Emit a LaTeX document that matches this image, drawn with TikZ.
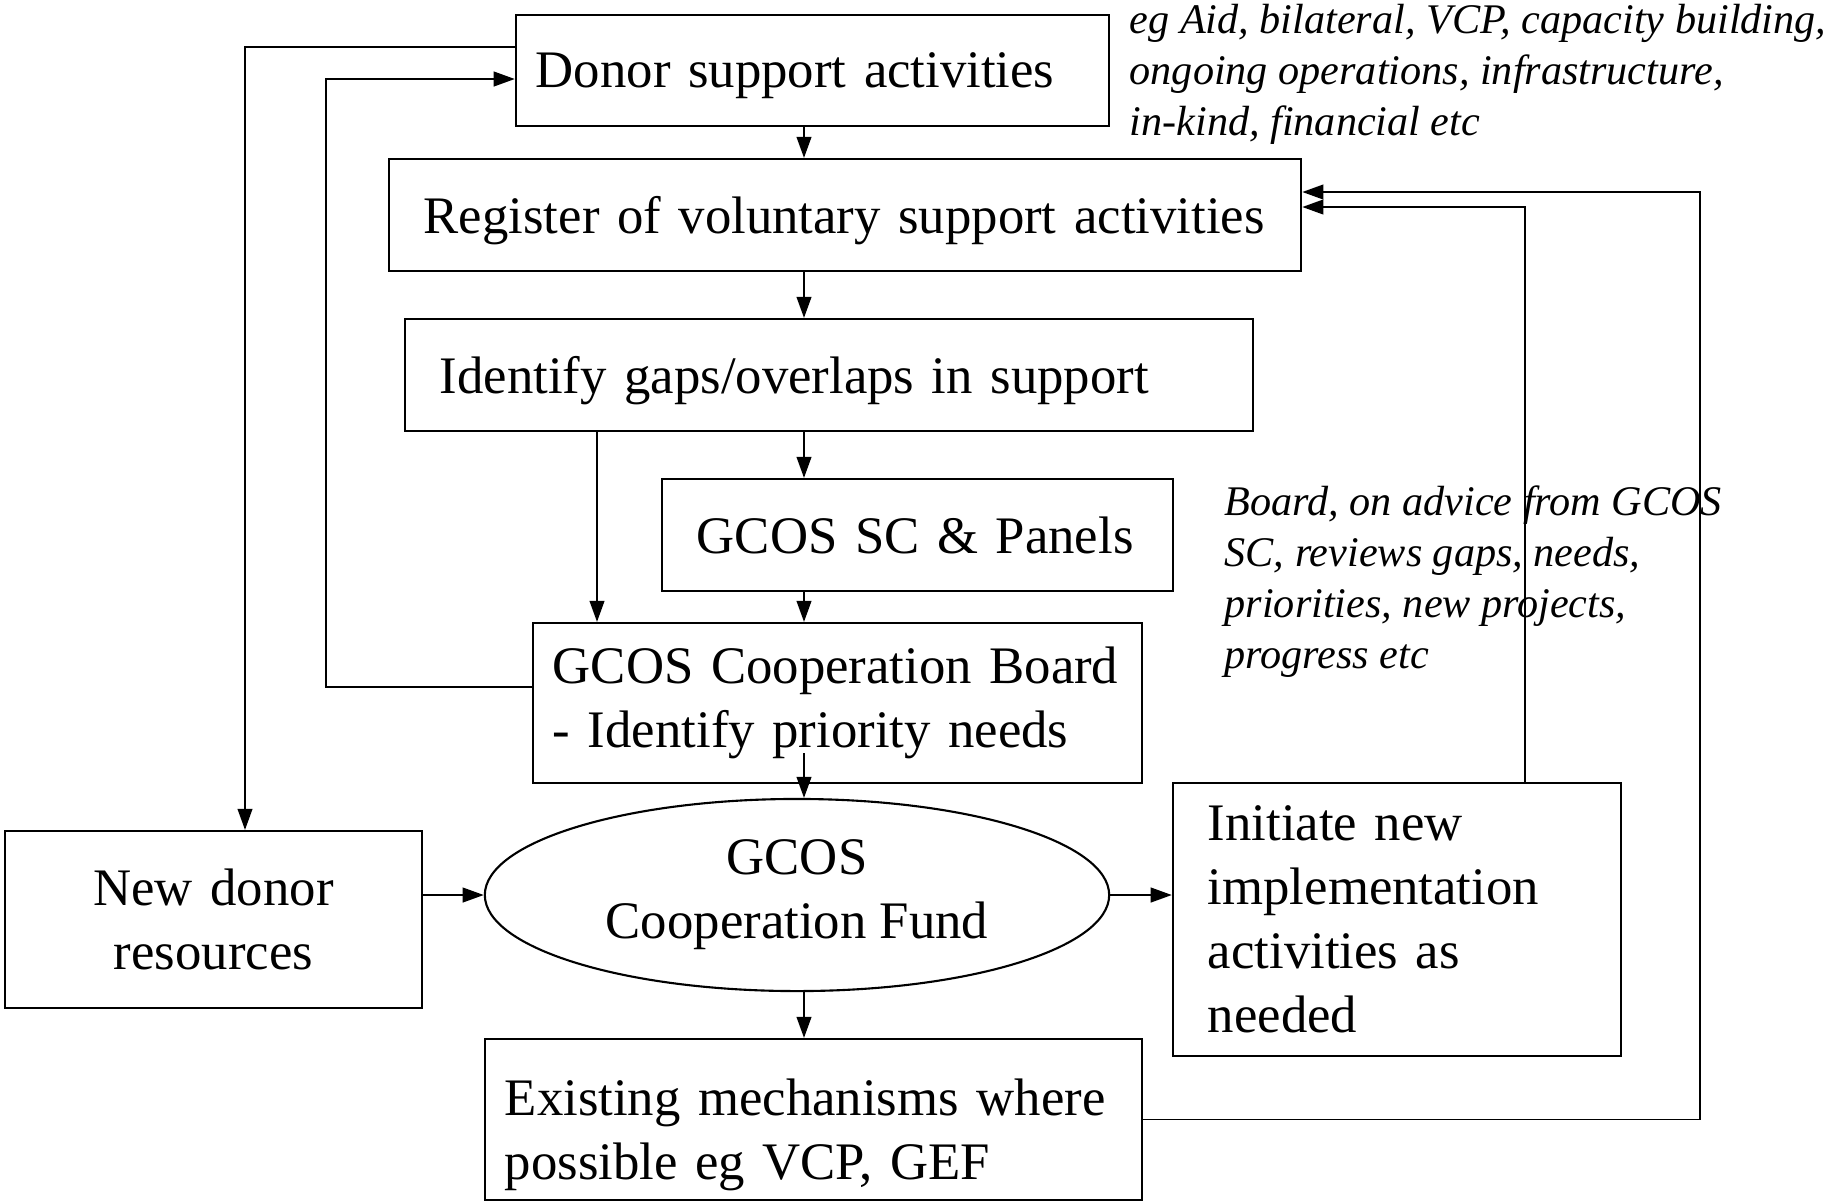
\documentclass[tikz,border=0pt]{standalone}
\usepackage{fontspec}
\setmainfont{Liberation Serif}
\usepackage{tikz}
\usetikzlibrary{arrows.meta,shapes.geometric,calc}
\newcommand{\boxtxt}{\fontsize{15}{18.2}\selectfont}
\newcommand{\notetxt}{\fontsize{12}{14.5}\selectfont\itshape}
\tikzset{
  bx/.style={draw,line width=0.6pt,inner xsep=0.35cm,inner ysep=0pt,align=left,font=\boxtxt},
  one/.style={text depth=0pt},
  pool/.style={ellipse,draw,line width=0.6pt,inner sep=0pt,minimum width=6.24cm,minimum height=1.92cm,align=center,font=\boxtxt},
  arr/.style={line width=0.5pt,-{Triangle[length=6pt,width=4.2pt]}},
  note/.style={inner sep=0pt,align=left,font=\notetxt}
}

\begin{document}
\begin{tikzpicture}[x=0.01cm,y=-0.01cm]
\useasboundingbox (0,0) rectangle (1836,1202);
\node[bx,one,inner xsep=0.2cm,text width=5.53cm,minimum height=1.11cm] (donor) at (812.5,70.5) {Donor support activities};
\node[bx,one,text width=8.42cm,minimum height=1.12cm] (register) at (845,215) {Register of voluntary support activities};
\node[bx,one,text width=7.78cm,minimum height=1.12cm] (identify) at (829,375) {Identify gaps/overlaps in support};
\node[bx,one,text width=4.41cm,minimum height=1.12cm] (sc) at (917.5,535) {GCOS SC \& Panels};
\node[bx,inner xsep=0.2cm,text width=5.69cm,minimum height=1.6cm] (board) at (837.5,703) {GCOS Cooperation Board\\- Identify priority needs};
\node[pool] (fund) at (797,895) {GCOS\\Cooperation Fund};
\node[bx,inner xsep=0.2cm,text width=3.77cm,align=center,minimum height=1.77cm] (newdonor) at (213.5,919.5) {New donor\\resources};
\node[bx,text width=3.78cm,minimum height=2.73cm] (initiate) at (1397,919.5) {Initiate new\\implementation\\activities as\\needed};
\node[bx,inner xsep=0.2cm,text width=6.17cm,minimum height=1.61cm] (existing) at (813.5,1119.5) {\rule{0pt}{0.675cm}Existing mechanisms where\\possible eg VCP, GEF};
\node[note,anchor=north west] (aidnote) at (1129,4) {eg Aid, bilateral, VCP, capacity building,\\ongoing operations, infrastructure,\\in-kind, financial etc};
\node[note,anchor=north west] (boardnote) at (1224,485) {Board, on advice from GCOS\\SC, reviews gaps, needs,\\priorities, new projects,\\progress etc};
\coordinate (spine) at (804,0);
\coordinate (gap) at (597,0);
\coordinate (outl) at (245,47);
\coordinate (innl) at (326,79);
\coordinate (backr) at (1525,207);
\coordinate (outr) at (1700,192);
\draw[arr] (donor.south -| spine) -- (register.north -| spine);
\draw[arr] (register.south -| spine) -- (identify.north -| spine);
\draw[arr] (identify.south -| spine) -- (sc.north -| spine);
\draw[arr] (sc.south -| spine) -- (board.north -| spine);
\draw[arr] (identify.south -| gap) -- (board.north -| gap);
\draw[arr] ($(board.south -| spine)+(0,-31)$) -- (fund.north -| spine);
\draw[arr] (fund.south -| spine) -- (existing.north -| spine);
\draw[arr] (newdonor.east |- fund.west) -- (fund.west);
\draw[arr] (fund.east) -- (initiate.west |- fund.east);
\draw[arr] (donor.west |- outl) -- (outl) -- (newdonor.north -| outl);
\draw[arr] ($(board.west)+(0,-16)$) -| (innl) -- (donor.west |- innl);
\draw[arr] (initiate.north -| backr) -- (backr) -- (register.east |- backr);
\draw[arr] (existing.east) -| (outr) -- (register.east |- outr);
\end{tikzpicture}
\end{document}
